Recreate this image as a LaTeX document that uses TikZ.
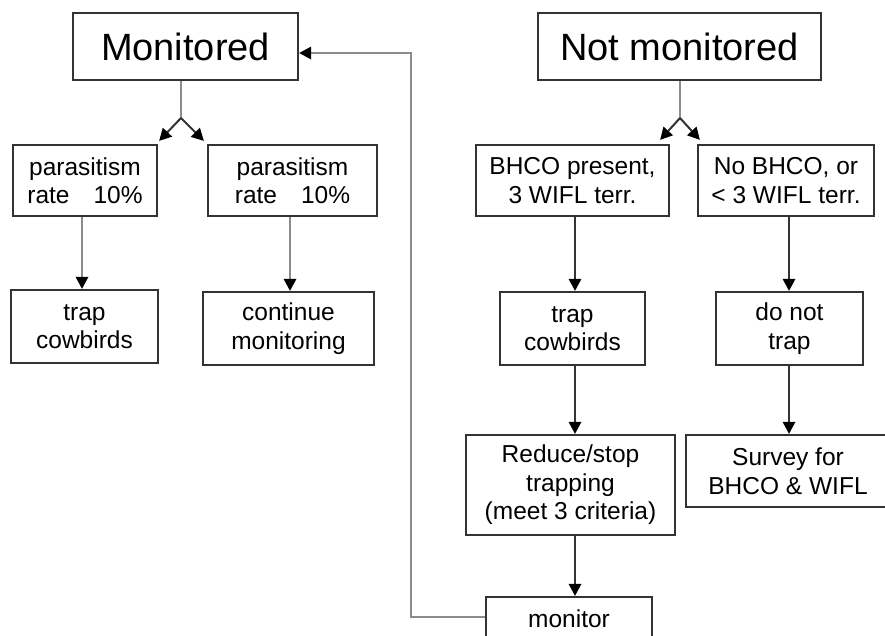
\documentclass[tikz,border=0pt]{standalone}
\usepackage{fontspec}
\setmainfont{Liberation Sans}
\usetikzlibrary{arrows.meta,calc}
\begin{document}
\begin{tikzpicture}[x=1pt,y=-1pt,
  box/.style={draw=black!80,line width=2.4pt,align=center,inner sep=0pt,
    font=\fontsize{24.5}{28.5}\selectfont},
  bigbox/.style={box,font=\fontsize{38}{44}\selectfont},
  arr/.style={line width=2pt,draw=black!80,-{Triangle[width=13pt,length=12pt,fill=black,line width=0pt]}},
  garr/.style={arr,draw=black!45},
  gline/.style={line width=2pt,draw=black!45}]
\useasboundingbox (0,0) rectangle (885,635);
\fill[white] (0,0) rectangle (885,635);
% nodes
\node[bigbox,minimum width=225pt,minimum height=67pt] (mon) at (185.5,46.5) {Monitored};
\node[bigbox,minimum width=283pt,minimum height=67pt] (notmon) at (679.5,46.5) {Not monitored};
\node[box,minimum width=144pt,minimum height=71pt] (p1) at (85,180.5) {parasitism\\rate\hspace{24pt}10\%};
\node[box,minimum width=169pt,minimum height=71pt] (p2) at (292.5,180.5) {parasitism\\rate\hspace{24pt}10\%};
\node[box,minimum width=147pt,minimum height=73pt] (tc1) at (84.5,326.5) {trap\\cowbirds};
\node[box,minimum width=171pt,minimum height=73pt] (cm) at (288.5,328.5) {continue\\monitoring};
\node[box,minimum width=193pt,minimum height=71pt] (bp) at (572.5,180.5) {BHCO present,\\3 WIFL terr.};
\node[box,minimum width=176pt,minimum height=71pt] (nb) at (786,180.5) {No BHCO, or\\< 3 WIFL terr.};
\node[box,minimum width=145pt,minimum height=73pt] (tc2) at (572.5,328.5) {trap\\cowbirds};
\node[box,minimum width=147pt,minimum height=73pt] (dnt) at (789.5,328.5) {do not\\trap};
\node[box,minimum width=209pt,minimum height=100pt] (red) at (570.5,485) {Reduce/stop\\trapping\\(meet 3 criteria)};
\node[box,minimum width=204pt,minimum height=72pt] (sur) at (788,471) {Survey for\\BHCO \& WIFL};
\node[box,minimum width=166pt,minimum height=44pt] (monb) at (569,619) {monitor};
% junctions
\coordinate (j1) at (181,118);
\coordinate (j2) at (680,118);
\coordinate (fb1) at (411,617);
\coordinate (fb2) at (411,53);
% connectors
\draw[gline] (mon.south -| j1) -- (j1);
\draw[arr] (j1) -- ($(p1.north east)+(1,-3)$);
\draw[arr] (j1) -- ($(p2.north west)+(-3,-3)$);
\draw[gline] (notmon.south -| j2) -- (j2);
\draw[arr] (j2) -- ($(bp.north east)+(-10,-4)$);
\draw[arr] (j2) -- ($(nb.north west)+(3,-4)$);
\draw[garr] (p1.south -| 82,0) -- (tc1.north -| 82,0);
\draw[garr] (p2.south -| 290,0) -- (cm.north -| 290,0);
\draw[arr] (bp.south -| 575,0) -- (tc2.north -| 575,0);
\draw[arr] (tc2.south -| 575,0) -- (red.north -| 575,0);
\draw[arr] (red.south -| 575,0) -- (monb.north -| 575,0);
\draw[arr] (nb.south -| 789,0) -- (dnt.north -| 789,0);
\draw[arr] (dnt.south -| 789,0) -- (sur.north -| 789,0);
\draw[garr] (monb.west |- fb1) -- (fb1) -- (fb2) -- (mon.east |- fb2);
\end{tikzpicture}
\end{document}
